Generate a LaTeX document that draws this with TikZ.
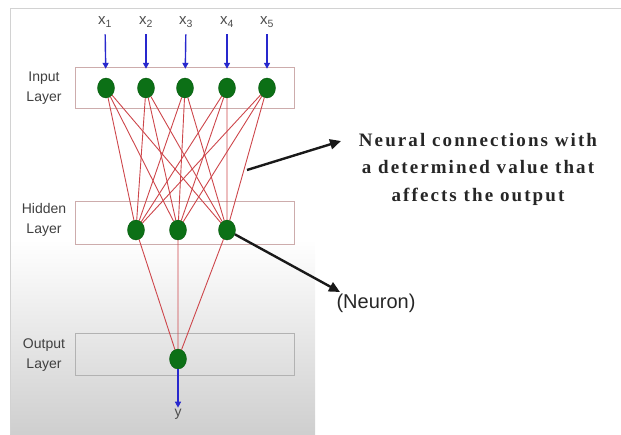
\documentclass[tikz,border=0pt]{standalone}
\usepackage{fontspec}
\setmainfont{Liberation Serif}
\setsansfont{Liberation Sans}
\newfontfamily\spacedserif[LetterSpace=11]{Liberation Serif}
\usetikzlibrary{positioning, arrows.meta, shapes.geometric}

\definecolor{nodegreen}{RGB}{12,112,22}
\definecolor{wirered}{RGB}{205,70,75}
\definecolor{inblue}{RGB}{40,40,205}
\definecolor{boxpink}{RGB}{205,172,172}

\begin{document}
\begin{tikzpicture}[
    x=1pt, y=-1pt,
    neuron/.style={ellipse, draw=nodegreen!80!black, fill=nodegreen, minimum width=17pt, minimum height=20pt, inner sep=0pt},
    layerbox/.style={draw=boxpink, line width=1pt, minimum width=219pt, inner sep=0pt},
    layerlbl/.style={font=\sffamily\fontsize{14}{20}\selectfont, text=black!75, align=center},
    xlbl/.style={font=\sffamily\fontsize{15}{16}\selectfont, text=black!70, inner sep=1pt},
    conn/.style={wirered, line width=0.9pt},
    inarr/.style={-{Triangle[length=6pt, width=6pt]}, inblue, line width=1.4pt},
    callout/.style={-{Triangle[length=11pt, width=10pt]}, black!90, line width=2.4pt}
]
\useasboundingbox (0,0) rectangle (621,434);
% Panel background
\shade[top color=white, bottom color=gray!38] (10,240) rectangle (315,434);
\draw[gray!35, line width=1pt] (621,8) -- (10,8) -- (10,434);
% Layer boxes
\node[layerbox, minimum height=41pt] (inbox)  at (185,88)  {};
\node[layerbox, minimum height=43pt] (hidbox) at (185,223) {};
\node[layerbox, draw=gray!60, minimum height=42pt] (outbox) at (185,354) {};
\node[layerlbl] (inlbl)  at (44,88)  {Input\\Layer};
\node[layerlbl] (hidlbl) at (44,220) {Hidden\\Layer};
\node[layerlbl] (outlbl) at (44,355) {Output\\Layer};
% Inputs
\node[xlbl] (x1) at (105,22) {x\textsubscript{1}};
\node[xlbl] (x2) at (146,22) {x\textsubscript{2}};
\node[xlbl] (x3) at (186,22) {x\textsubscript{3}};
\node[xlbl] (x4) at (227,22) {x\textsubscript{4}};
\node[xlbl] (x5) at (267,22) {x\textsubscript{5}};
% Neurons
\node[neuron] (i1) at (106,88) {};
\node[neuron] (i2) at (146,88) {};
\node[neuron] (i3) at (185,88) {};
\node[neuron] (i4) at (227,88) {};
\node[neuron] (i5) at (267,88) {};
\node[neuron] (h1) at (136,230) {};
\node[neuron] (h2) at (178,230) {};
\node[neuron] (h3) at (227,230) {};
\node[neuron] (o1) at (178,359) {};
\node[xlbl, font=\sffamily\fontsize{14}{14}\selectfont] (ylbl) at (178,414) {y};
% Input arrows
\draw[inarr, shorten <=6pt, shorten >=9pt] (x1) -- (i1);
\draw[inarr, shorten <=6pt, shorten >=9pt] (x2) -- (i2);
\draw[inarr, shorten <=6pt, shorten >=9pt] (x3) -- (i3);
\draw[inarr, shorten <=6pt, shorten >=9pt] (x4) -- (i4);
\draw[inarr, shorten <=6pt, shorten >=9pt] (x5) -- (i5);
% Connections
\draw[conn] (i1) -- (h1) (i1) -- (h2) (i1) -- (h3);
\draw[conn] (i2) -- (h1) (i2) -- (h2) (i2) -- (h3);
\draw[conn] (i3) -- (h1) (i3) -- (h2) (i3) -- (h3);
\draw[conn] (i4) -- (h1) (i4) -- (h2) (i4) -- (h3);
\draw[conn] (i5) -- (h1) (i5) -- (h2) (i5) -- (h3);
\draw[conn] (h1) -- (o1) (h2) -- (o1) (h3) -- (o1);
\draw[inarr] (o1) -- (ylbl);
% --- Callouts ---
\node[font=\spacedserif\bfseries\fontsize{19}{27.5}\selectfont, text=black!85, align=center] (wtext) at (478,169)
  {Neural connections with\\a determined value that\\affects the output};
\node[font=\sffamily\fontsize{20}{24}\selectfont, text=black!85, anchor=west] (ntext) at (333,303) {(Neuron)};
\coordinate (wpoint) at (247,170);
\coordinate (wtip) at (341,141);
\coordinate (ntip) at (340,292);
\draw[callout] (wpoint) -- (wtip);
\draw[callout] (h3) -- (ntip);
\end{tikzpicture}
\end{document}
